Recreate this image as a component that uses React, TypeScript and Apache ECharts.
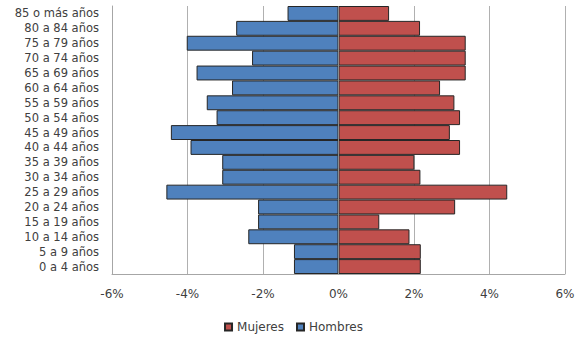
import React, { useEffect, useRef } from "react";
import * as echarts from "echarts";

const categories = [
  "0 a 4 años",
  "5 a 9 años",
  "10 a 14 años",
  "15 a 19 años",
  "20 a 24 años",
  "25 a 29 años",
  "30 a 34 años",
  "35 a 39 años",
  "40 a 44 años",
  "45 a 49 años",
  "50 a 54 años",
  "55 a 59 años",
  "60 a 64 años",
  "65 a 69 años",
  "70 a 74 años",
  "75 a 79 años",
  "80 a 84 años",
  "85 o más años",
];

// percent of population, in the same order as categories
const hombres = [1.18, 1.18, 2.39, 2.13, 2.13, 4.56, 3.08, 3.08, 3.92, 4.44, 3.23, 3.49, 2.82, 3.76, 2.29, 4.02, 2.71, 1.35];
const mujeres = [2.18, 2.18, 1.88, 1.08, 3.09, 4.47, 2.17, 2.01, 3.22, 2.95, 3.22, 3.07, 2.69, 3.37, 3.37, 3.37, 2.16, 1.34];

const xTicks = { min: -6, max: 6, interval: 2 };

export default function App() {
  const ref = useRef<HTMLDivElement>(null);
  useEffect(() => {
    if (!ref.current) return;
    const chart = echarts.init(ref.current, undefined, { renderer: "svg" });
    const font = "'DejaVu Sans', Verdana, sans-serif";
    chart.setOption({
      animation: false,
      textStyle: { fontFamily: font },
      grid: { left: 112, right: 22, top: 6, bottom: 67, containLabel: false },
      legend: {
        data: ["Mujeres", "Hombres"],
        bottom: 3,
        left: "center",
        icon: "rect",
        itemWidth: 7,
        itemHeight: 7,
        itemGap: 12,
        textStyle: { fontSize: 12, color: "#404040", fontFamily: font },
      },
      xAxis: {
        type: "value",
        min: xTicks.min,
        max: xTicks.max,
        interval: xTicks.interval,
        axisLine: { show: true, lineStyle: { color: "#a6a6a6", width: 1 } },
        axisTick: { show: false },
        splitLine: { show: true, lineStyle: { color: "#b0b0b0", width: 1 } },
        axisLabel: {
          formatter: (v: number) => `${v}%`,
          color: "#404040",
          fontSize: 12,
          margin: 14,
          fontFamily: font,
        },
      },
      yAxis: {
        type: "category",
        data: categories,
        axisLine: { show: true, onZero: false, lineStyle: { color: "#a6a6a6" } },
        axisTick: { show: false },
        axisLabel: { interval: 0, color: "#404040", fontSize: 11.5, margin: 13, fontFamily: font },
      },
      series: [
        {
          name: "Mujeres",
          type: "bar",
          stack: "total",
          barCategoryGap: 0,
          data: mujeres,
          itemStyle: { color: "#C0504D", borderColor: "#262626", borderWidth: 1 },
        },
        {
          name: "Hombres",
          type: "bar",
          stack: "total",
          barCategoryGap: 0,
          data: hombres.map((v) => -v),
          itemStyle: { color: "#4F81BD", borderColor: "#262626", borderWidth: 1 },
          markLine: {
            silent: true,
            symbol: "none",
            label: { show: false },
            lineStyle: { color: "#8c8c8c", type: "solid", width: 1 },
            data: [{ xAxis: 0 }],
            z: 10,
          },
        },
      ],
    });
    return () => chart.dispose();
  }, []);
  return (
    <div
      ref={ref}
      style={{ position: "fixed", left: 0, top: 0, width: 587, height: 341, background: "#fff" }}
    />
  );
}
